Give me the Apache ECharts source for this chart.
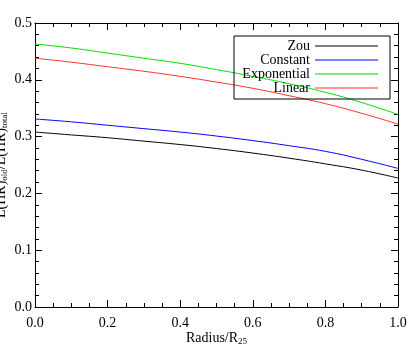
<!DOCTYPE html>
<html>
<head>
<meta charset="utf-8">
<script src="https://cdn.jsdelivr.net/npm/echarts@6/dist/echarts.min.js"></script>
<style>
    html, body { margin: 0; padding: 0; background: #fff; }
    #chart { width: 409px; height: 354px; }
</style>
</head>
<body>
<div id="chart"></div>
<script>
// radius / R25
const radius = [0.0, 0.1, 0.2, 0.3, 0.4, 0.5, 0.6, 0.7, 0.8, 0.9, 1.0]
const zou = [0.308, 0.303, 0.298, 0.292, 0.286, 0.279, 0.271, 0.262, 0.252, 0.241, 0.227]
const constant = [0.331, 0.326, 0.320, 0.314, 0.308, 0.301, 0.293, 0.284, 0.274, 0.260, 0.244]
const exponential = [0.463, 0.456, 0.447, 0.438, 0.429, 0.418, 0.406, 0.393, 0.378, 0.360, 0.339]
const linear = [0.438, 0.431, 0.423, 0.415, 0.406, 0.396, 0.385, 0.372, 0.358, 0.341, 0.322]

const seriesNames = ['Zou', 'Constant', 'Exponential', 'Linear']
const seriesColors = ['#000000', '#0000ff', '#00dd00', '#ff3030']

const font = 'Liberation Serif, Times New Roman, serif'
const pair = (ys) => radius.map((x, i) => [x, ys[i]])

const chart = echarts.init(document.getElementById('chart'))

// ticks point into the plot, mirrored on all four sides
function makeAxis(opts) {
    return Object.assign({
        type: 'value',
        axisLine: { show: true, onZero: false, lineStyle: { color: '#000', width: 1 } },
        axisTick: { show: true, inside: true, length: 7, lineStyle: { color: '#000' } },
        minorTick: { show: true, length: 4, splitNumber: opts.minorSplit, lineStyle: { color: '#000' } },
        splitLine: { show: false }
    }, opts)
}

const labelStyle = { color: '#000', fontFamily: font, fontSize: 14, formatter: (v) => v.toFixed(1) }
const nameStyle = {
    fontFamily: font, fontSize: 14, color: '#000',
    rich: { s: { fontFamily: font, fontSize: 9, verticalAlign: 'bottom', padding: [6, 0, 0, 0] } }
}

const option = {
    animation: false,
    grid: { left: 35, right: 11, top: 23, bottom: 47, outerBoundsMode: 'none', containLabel: false },
    legend: {
        data: seriesNames,
        orient: 'vertical',
        right: 19,
        top: 36,
        align: 'right',
        icon: 'rect',
        borderColor: '#000',
        borderWidth: 1,
        borderRadius: 0,
        padding: [3, 12, 4, 6],
        itemGap: 0,
        itemWidth: 63,
        itemHeight: 1,
        formatter: (name) => '{n|' + name + '}',
        textStyle: {
            fontFamily: font,
            fontSize: 14,
            color: '#000',
            rich: { n: { width: 70, align: 'right', fontFamily: font, fontSize: 14, lineHeight: 14 } }
        }
    },
    xAxis: [
        makeAxis({
            min: 0, max: 1, interval: 0.2, minorSplit: 4,
            name: 'Radius/R{s|25}',
            nameLocation: 'middle',
            nameGap: 24,
            nameMoveOverlap: false,
            nameTextStyle: nameStyle,
            axisLabel: Object.assign({ margin: 9 }, labelStyle)
        }),
        makeAxis({
            position: 'top', min: 0, max: 1, interval: 0.2, minorSplit: 4,
            axisLabel: { show: false }
        })
    ],
    yAxis: [
        makeAxis({
            min: 0, max: 0.5, interval: 0.1, minorSplit: 5,
            name: 'L(HR){s|old}/L(HR){s|total}',
            nameLocation: 'middle',
            nameGap: 26,
            nameMoveOverlap: false,
            nameTextStyle: nameStyle,
            axisLabel: Object.assign({ margin: 3 }, labelStyle)
        }),
        makeAxis({
            position: 'right', min: 0, max: 0.5, interval: 0.1, minorSplit: 5,
            axisLabel: { show: false }
        })
    ],
    series: [zou, constant, exponential, linear].map((ys, i) => ({
        name: seriesNames[i],
        type: 'line',
        data: pair(ys),
        smooth: true,
        symbol: 'none',
        color: seriesColors[i],
        lineStyle: { width: 1, color: seriesColors[i] }
    }))
}

chart.setOption(option)
</script>
</body>
</html>
